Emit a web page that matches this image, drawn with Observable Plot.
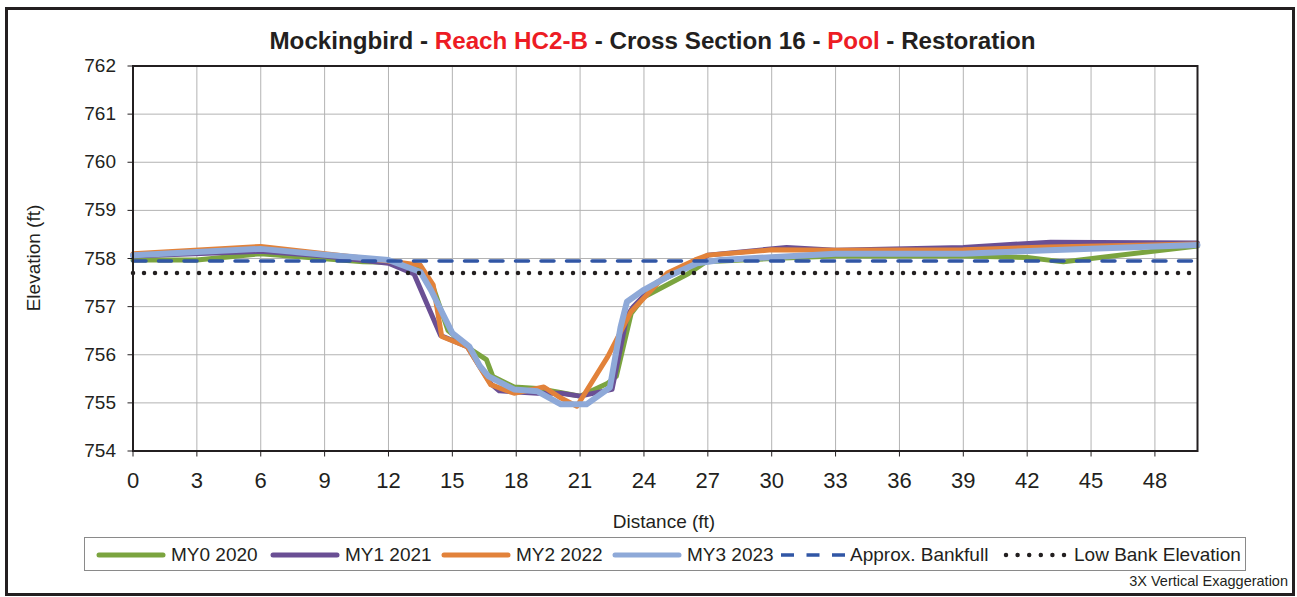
<!DOCTYPE html>
<html>
<head>
<meta charset="utf-8">
<script src="https://cdn.jsdelivr.net/npm/d3@7"></script>
<script src="https://cdn.jsdelivr.net/npm/@observablehq/plot@0.6"></script>
<style>
  html, body { margin: 0; padding: 0; background: #fff; }
  body { font-family: "Liberation Sans", Arial, Helvetica, sans-serif; color: #231f20; }
  #wrap { position: relative; width: 1297px; height: 597px; overflow: hidden; }
  #border { position: absolute; left: 5px; top: 7px; width: 1284px; height: 583px; border: 3.5px solid #231f20; }
  #chart { position: absolute; left: 0; top: 0; }
  #title { position: absolute; left: 4px; width: 1297px; top: 27px; text-align: center; font-weight: bold; font-size: 24.2px; white-space: nowrap; }
  #title .red { color: #ed1c24; }
  #xlabel { position: absolute; left: 564px; width: 200px; top: 511px; text-align: center; font-size: 19px; }
  #ylabel { position: absolute; left: 34px; top: 258px; transform: translate(-50%, -50%) rotate(-90deg); font-size: 19px; white-space: nowrap; }
  #legend { position: absolute; left: 84px; top: 537px; width: 1162px; height: 34px; border: 1px solid #8a8a8a; box-sizing: border-box; }
  .item { position: absolute; top: 0; height: 34px; display: flex; align-items: center; font-size: 19px; white-space: nowrap; }
  .item svg { margin-right: 5px; }
  #caption { position: absolute; right: 9px; top: 573px; font-size: 14.5px; white-space: nowrap; }
</style>
</head>
<body>
<div id="wrap">
  <div id="chart"></div>
  <div id="border"></div>
  <div id="title">Mockingbird - <span class="red">Reach HC2-B</span> - Cross Section 16 - <span class="red">Pool</span> - Restoration</div>
  <div id="xlabel">Distance (ft)</div>
  <div id="ylabel">Elevation (ft)</div>
  <div id="legend"></div>
  <div id="caption">3X Vertical Exaggeration</div>
</div>
<script>
// ---- data ----
const xTicks = [0, 3, 6, 9, 12, 15, 18, 21, 24, 27, 30, 33, 36, 39, 42, 45, 48];
const yTicks = [754, 755, 756, 757, 758, 759, 760, 761, 762];

const my0Dist = [0, 3, 6, 10.8, 12, 13.5, 14.1, 14.8, 15.9, 16.6, 16.9, 17.9, 19, 20, 21, 22.3, 22.7, 23.4, 24, 26.1, 26.9, 30, 33, 39, 42, 43.7, 50];
const my0Elev = [757.97, 757.97, 758.1, 757.93, 757.92, 757.83, 757.4, 756.5, 756.1, 755.9, 755.55, 755.33, 755.3, 755.22, 755.14, 755.41, 755.55, 756.86, 757.2, 757.69, 757.93, 758.0, 758.05, 758.05, 758.02, 757.93, 758.26];

const my1Dist = [0, 6, 9, 12, 13.2, 14.45, 15.7, 16.8, 17.2, 19, 20.1, 21, 22.5, 23.2, 23.5, 24.6, 26.7, 27, 30.7, 33, 39, 43.1, 50];
const my1Elev = [758.05, 758.15, 758.05, 757.9, 757.68, 756.4, 756.17, 755.4, 755.25, 755.2, 755.2, 755.14, 755.28, 756.8, 757.0, 757.5, 757.97, 758.07, 758.23, 758.17, 758.23, 758.34, 758.32];

const my2Dist = [0, 6, 12, 13.5, 14.1, 14.5, 15.7, 16.8, 17.9, 19.3, 20.1, 20.85, 22.3, 23.4, 25.1, 26.4, 27, 30, 33, 39, 43, 50];
const my2Elev = [758.1, 758.25, 757.95, 757.86, 757.45, 756.38, 756.17, 755.38, 755.2, 755.33, 755.1, 754.93, 755.96, 756.9, 757.7, 757.97, 758.07, 758.18, 758.17, 758.18, 758.24, 758.3];

const my3Dist = [0, 6, 9, 12, 13.5, 14, 15, 15.8, 16.3, 16.7, 17.9, 19, 20.1, 21.3, 22.4, 22.9, 23.2, 24, 25.1, 26.5, 27.6, 33, 39, 43, 50];
const my3Elev = [758.07, 758.2, 758.08, 757.97, 757.72, 757.34, 756.45, 756.17, 755.76, 755.55, 755.28, 755.24, 754.97, 754.97, 755.32, 756.57, 757.1, 757.35, 757.62, 757.9, 757.97, 758.1, 758.1, 758.17, 758.28];

const bankfullDist = [0, 50];
const bankfullElev = [757.95, 757.95];
const lowBankDist = [0, 50];
const lowBankElev = [757.70, 757.70];

const seriesNames = ["MY0 2020", "MY1 2021", "MY2 2022", "MY3 2023", "Approx. Bankfull", "Low Bank Elevation"];
const seriesColors = ["#7ba43f", "#6a4f94", "#e2823a", "#8ea9d8", "#3156a5", "#231f20"];

// ---- build tables ----
const toRows = (xs, ys) => xs.map((d, i) => ({x: d, y: ys[i]}));
const rows = [
  toRows(my0Dist, my0Elev),
  toRows(my1Dist, my1Elev),
  toRows(my2Dist, my2Elev),
  toRows(my3Dist, my3Elev),
  toRows(bankfullDist, bankfullElev),
  toRows(lowBankDist, lowBankElev)
];

const styles = [
  {strokeWidth: 5},
  {strokeWidth: 5},
  {strokeWidth: 5},
  {strokeWidth: 6},
  {strokeWidth: 3.5, strokeDasharray: "13 12.5"},
  {strokeWidth: 4.5, strokeDasharray: "0 11", strokeLinecap: "round"}
];

const chart = Plot.plot({
  width: 1297,
  height: 597,
  marginLeft: 132.5,
  marginRight: 100,
  marginTop: 65.5,
  marginBottom: 146.5,
  x: {domain: [0, 50]},
  y: {domain: [754, 762]},
  style: {fontFamily: '"Liberation Sans", Arial, sans-serif', color: "#231f20", background: "transparent", overflow: "visible"},
  marks: [
    Plot.gridX(xTicks, {stroke: "#b3b3b3", strokeOpacity: 1, strokeWidth: 1}),
    Plot.gridY(yTicks, {stroke: "#b3b3b3", strokeOpacity: 1, strokeWidth: 1}),
    ...rows.map((r, i) => Plot.line(r, {x: "x", y: "y", stroke: seriesColors[i], strokeLinejoin: "round", ...styles[i]})),
    Plot.frame({stroke: "#231f20", strokeWidth: 2}),
    Plot.axisX(xTicks, {tickSize: 6, tickPadding: 15, fontSize: 22, label: null, stroke: "#231f20"}),
    Plot.axisY(yTicks, {tickSize: 5, tickPadding: 12, fontSize: 19, label: null, stroke: "#231f20"})
  ]
});
document.getElementById("chart").appendChild(chart);

// ---- legend ----
const legend = document.getElementById("legend");
const itemLeft = [11, 185, 356, 527, 696, 918];
seriesNames.forEach((name, i) => {
  const div = document.createElement("div");
  div.className = "item";
  div.style.left = itemLeft[i] + "px";
  let svg;
  if (i < 4) {
    svg = `<svg width="70" height="12"><line x1="3" x2="67" y1="6" y2="6" stroke="${seriesColors[i]}" stroke-width="5" stroke-linecap="round"/></svg>`;
  } else if (i === 4) {
    svg = `<svg width="64" height="12"><line x1="0" x2="64" y1="6" y2="6" stroke="${seriesColors[i]}" stroke-width="3.5" stroke-dasharray="13 12.5"/></svg>`;
  } else {
    svg = `<svg width="66" height="12"><line x1="3" x2="63" y1="6" y2="6" stroke="${seriesColors[i]}" stroke-width="4.5" stroke-dasharray="0 11.6" stroke-linecap="round"/></svg>`;
  }
  div.innerHTML = svg + `<span>${name}</span>`;
  legend.appendChild(div);
});
</script>
</body>
</html>
